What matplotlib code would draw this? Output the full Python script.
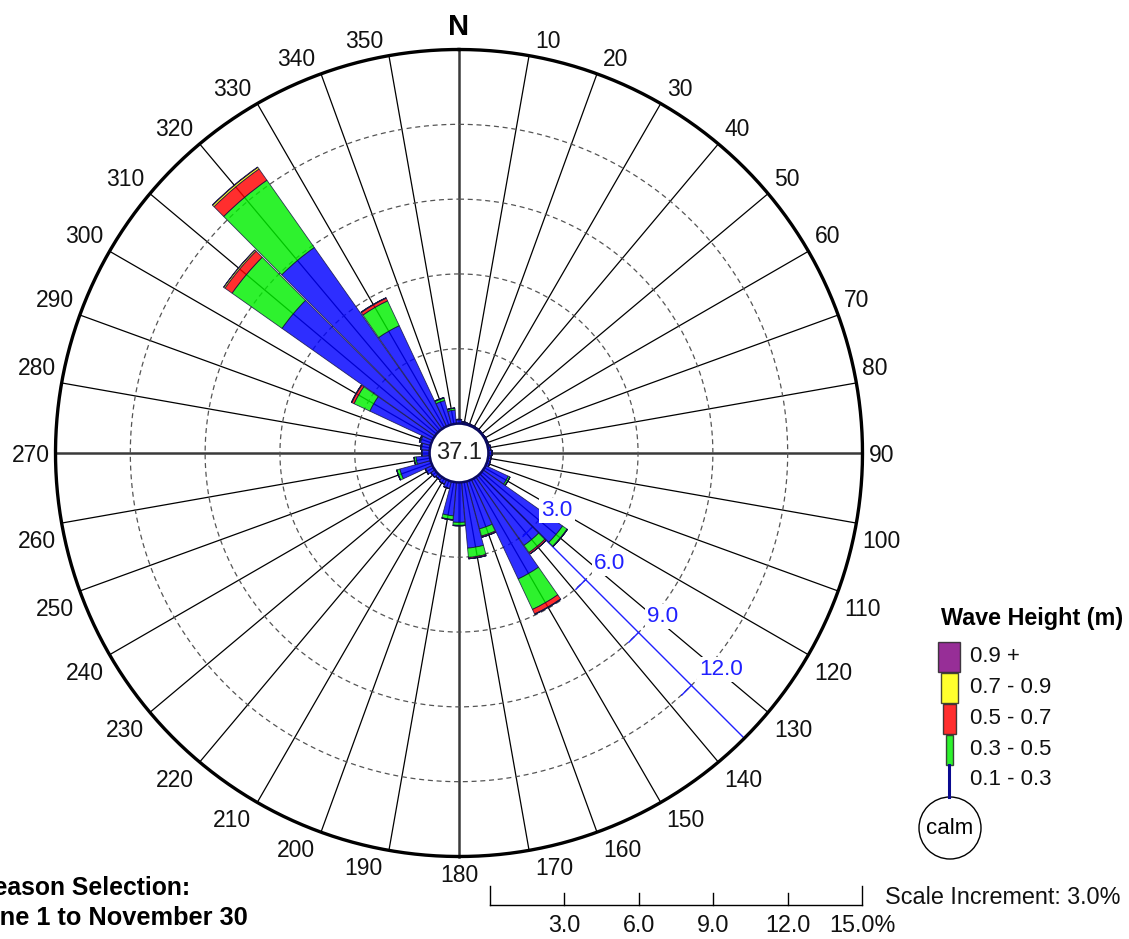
import numpy as np
import matplotlib
matplotlib.use("Agg")
import matplotlib.pyplot as plt
from matplotlib.patches import Rectangle, Circle

plt.rcParams['font.family'] = ['Liberation Sans', 'DejaVu Sans']

# ---------------- data (percent of observations) ----------------
directions = list(range(10, 361, 10))
#            10    20    30    40    50    60    70    80    90   100   110   120
h_01_03 = [0.08, 0.06, 0.05, 0.05, 0.04, 0.05, 0.06, 0.10, 0.15, 0.12, 0.12, 1.00,
           # 130  140   150   160   170   180   190   200   210   220   230   240
           3.90, 3.35, 4.40, 1.97, 2.65, 1.60, 1.35, 0.30, 0.20, 0.15, 0.20, 0.30,
           # 250  260   270   280   290   300   310   320   330   340   350   360
           1.28, 0.55, 0.30, 0.33, 0.42, 2.77, 7.50, 8.90, 4.46, 1.00, 0.55, 0.15]
h_03_05 = [0, 0, 0, 0, 0, 0, 0, 0, 0, 0, 0, 0.08,
           0.22, 0.35, 1.35, 0.30, 0.38, 0.12, 0.15, 0, 0, 0, 0, 0.02,
           0.12, 0.08, 0.02, 0.04, 0.04, 0.70, 2.45, 3.30, 1.10, 0.10, 0.08, 0.02]
h_05_07 = [0, 0, 0, 0, 0, 0, 0, 0, 0, 0, 0, 0,
           0.02, 0.07, 0.20, 0.05, 0.05, 0.02, 0.02, 0, 0, 0, 0, 0,
           0.01, 0, 0, 0, 0.01, 0.10, 0.35, 0.55, 0.12, 0.02, 0, 0]
h_07_09 = [0, 0, 0, 0, 0, 0, 0, 0, 0, 0, 0, 0,
           0, 0, 0.02, 0, 0, 0, 0, 0, 0, 0, 0, 0,
           0, 0, 0, 0, 0, 0.02, 0.06, 0.08, 0.02, 0, 0, 0]
h_09_up = [0, 0, 0, 0, 0, 0, 0, 0, 0, 0, 0, 0,
           0, 0, 0, 0, 0, 0, 0, 0, 0, 0, 0, 0,
           0, 0, 0, 0, 0, 0, 0.01, 0.02, 0, 0, 0, 0]
series = [h_01_03, h_03_05, h_05_07, h_07_09, h_09_up]
class_labels = ["0.1 - 0.3", "0.3 - 0.5", "0.5 - 0.7", "0.7 - 0.9", "0.9 +"]
class_colors = ["#0000ff", "#00f000", "#ff0000", "#ffff00", "#800080"]
calm_pct = 37.1
rings = [3.0, 6.0, 9.0, 12.0, 15.0]
ring_labels = ["3.0", "6.0", "9.0", "12.0"]
scale_labels = ["3.0", "6.0", "9.0", "12.0", "15.0%"]

# ---------------- layout ----------------
W, H = 1129, 939
fig = plt.figure(figsize=(W / 100, H / 100), dpi=100)
PX = 0.72  # points per pixel at dpi 100
cx, cy, Rpx = 459, 453, 403.5
offset = 1.18                     # calm-circle radius in percent units
rmax = rings[-1] + offset
ax = fig.add_axes([(cx - Rpx) / W, (H - cy - Rpx) / H, 2 * Rpx / W, 2 * Rpx / H],
                  projection='polar')
ax.set_theta_zero_location('N')
ax.set_theta_direction(-1)
ax.set_ylim(0, rmax)
ax.set_axis_off()

tt = np.linspace(0, 2 * np.pi, 720)

# spokes
for d in range(0, 360, 10):
    th = np.deg2rad(d)
    if d % 90 == 0:
        ax.plot([th, th], [offset, rmax], color='#3a3a3a', lw=1.8, zorder=1, clip_on=False)
    else:
        ax.plot([th, th], [offset, rmax], color='black', lw=0.9, zorder=1, clip_on=False)

# dashed rings
for r in rings[:-1]:
    ax.plot(tt, np.full_like(tt, r + offset), color='#555555', lw=0.9,
            ls=(0, (4, 3)), zorder=1)

# outer circle
ax.plot(tt, np.full_like(tt, rmax), color='black', lw=2.4, zorder=6, clip_on=False)

# blue scale axis at 135 deg
th_s = np.deg2rad(135)
ax.plot([th_s, th_s], [0, rmax], color='#2020ff', lw=1.0, zorder=1.5, clip_on=False)
for r, lab in zip(rings[:-1], ring_labels):
    rr = r + offset
    x0, y0 = rr * np.sin(th_s), rr * np.cos(th_s)
    px, py = np.sin(np.deg2rad(225)), np.cos(np.deg2rad(225))
    x1, y1 = x0 + 0.55 * px, y0 + 0.55 * py
    ax.plot([th_s, np.arctan2(x1, y1)], [rr, np.hypot(x1, y1)], color='#2020ff',
            lw=1.0, zorder=1.5)
    ax.annotate(lab, xy=(th_s, rr), xytext=(6, 4), textcoords='offset points',
                ha='left', va='bottom', color='#2020ff', fontsize=16.2, zorder=7,
                bbox=dict(boxstyle='square,pad=0.1', fc='white', ec='none'))

# stacked bars
theta = np.deg2rad(np.array(directions, dtype=float))
bottom = np.full(len(directions), offset)
for vals, col in zip(series, class_colors):
    v = np.array(vals, dtype=float)
    ax.bar(theta, v, width=np.deg2rad(9.7), bottom=bottom, color=col, alpha=0.82,
           edgecolor='#101040', linewidth=0.6, zorder=2)
    bottom = bottom + v

# calm circle
ax.add_patch(Circle((0, 0), offset, transform=ax.transData._b, facecolor='white',
                    edgecolor='#0a0a60', lw=1.8, zorder=8))
ax.text(0, 0, f"{calm_pct:.1f}", ha='center', va='center', fontsize=17,
        color='#202020', zorder=9)

# direction labels anchored at the end of each spoke
for d in directions:
    if d == 360:
        continue
    th = np.deg2rad(d)
    s, c = np.sin(th), np.cos(th)
    if d == 180:
        ha, va, dx, dy = 'center', 'top', 0, -8
    elif d in (90, 270):
        ha = 'left' if s > 0 else 'right'
        va, dx, dy = 'center_baseline', 6 if s > 0 else -6, 0
    else:
        ha = 'left' if s > 0 else 'right'
        dx = 6 if s > 0 else -6
        if c > 0:
            va, dy = 'baseline', 8
        else:
            va, dy = 'top', -7
    ax.annotate(str(d), xy=(th, rmax), xytext=(dx * PX, dy * PX),
                textcoords='offset points', ha=ha, va=va, fontsize=16.5,
                color='#111111', annotation_clip=False)
ax.annotate("N", xy=(0, rmax), xytext=(0, 15 * PX), textcoords='offset points',
            ha='center', va='baseline', fontsize=21, fontweight='bold',
            annotation_clip=False)

# ---------------- overlay for legend / scale ----------------
lax = fig.add_axes([0, 0, 1, 1])
lax.set_xlim(0, W)
lax.set_ylim(H, 0)
lax.set_axis_off()

lax.text(1032, 619, "Wave Height (m)", ha='center', va='center', fontsize=16.8,
         fontweight='bold')
sw = [(938, 642, 22, 30), (941, 673, 17, 30), (943, 704, 13, 30), (946, 735, 7, 30)]
leg_order = [4, 3, 2, 1]
for (x, y, w, h), k in zip(sw, leg_order):
    lax.add_patch(Rectangle((x, y), w, h, facecolor=class_colors[k], alpha=0.82,
                            edgecolor='#202020', lw=1.0))
lax.plot([949, 949], [765, 797], color='#0a0a90', lw=2.2)
lax.add_patch(Circle((950, 828), 31, facecolor='white', edgecolor='black', lw=1.0))
lax.text(950, 828, "calm", ha='center', va='center', fontsize=16)
for i, k in enumerate(leg_order + [0]):
    lax.text(970, 657 + i * 30.7, class_labels[k], ha='left', va='center',
             fontsize=16, color='#111111')

# scale bar
x0, x1, yb = 490, 862, 905
ppp = (x1 - x0) / rings[-1]
lax.plot([x0, x1], [yb, yb], color='black', lw=1.0)
lax.plot([x0, x0], [yb, 886], color='black', lw=1.0)
lax.plot([x1, x1], [yb, 886], color='black', lw=1.0)
for r, lab in zip(rings, scale_labels):
    xx = x0 + r * ppp
    if r < rings[-1]:
        lax.plot([xx, xx], [yb, 893], color='black', lw=1.0)
    lax.text(xx, 926, lab, ha='center', va='center', fontsize=16.8, color='#111111')
lax.text(885, 897, "Scale Increment: 3.0%", ha='left', va='center', fontsize=16.8,
         color='#111111')

# season caption (partly outside the left edge, as in the reference)
lax.text(190, 888, "Season Selection:", ha='right', va='center', fontsize=17.8,
         fontweight='bold')
lax.text(248, 918, "June 1 to November 30", ha='right', va='center', fontsize=18.3,
         fontweight='bold')

fig.savefig("out.png", dpi=100)
